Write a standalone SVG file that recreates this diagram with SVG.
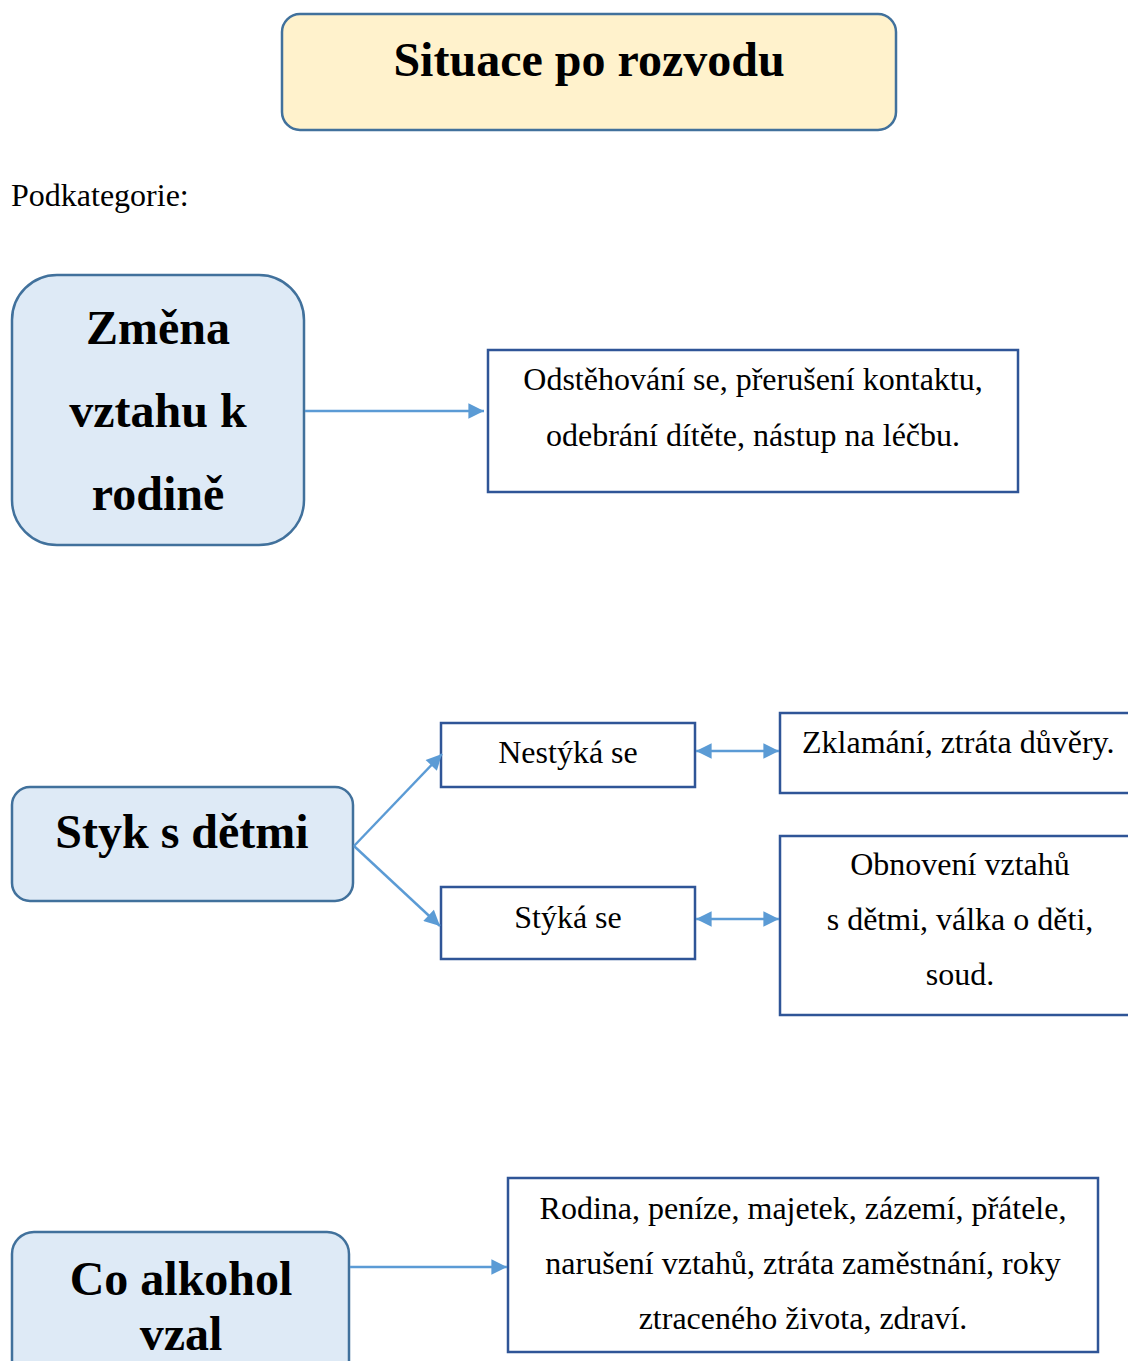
<svg xmlns="http://www.w3.org/2000/svg" width="1128" height="1361" viewBox="0 0 1128 1361">
<defs>
<style>
.cat{fill:#DEEAF6;stroke:#41719C;stroke-width:2.5}
.box{fill:#FFFFFF;stroke:#2F5597;stroke-width:2.5}
.hd{font-family:"Liberation Serif","Times New Roman",serif;font-weight:bold;font-size:48px;fill:#000;text-anchor:middle}
.tx{font-family:"Liberation Serif","Times New Roman",serif;font-size:32px;fill:#000;text-anchor:middle}
.con{stroke:#5B9BD5;stroke-width:2.4;fill:none}
</style>
<marker id="ah" viewBox="0 0 10 10" refX="10" refY="5" markerWidth="7" markerHeight="6.5" markerUnits="strokeWidth" orient="auto-start-reverse">
<path d="M0,0 L10,5 L0,10 z" fill="#5B9BD5"/>
</marker>
</defs>
<rect width="1128" height="1361" fill="#FFFFFF"/>
<g id="title">
<rect x="282" y="14" width="614" height="116" rx="18" fill="#FFF2CC" stroke="#41719C" stroke-width="2.5"/>
<text x="589" y="76" font-family="Liberation Serif, serif" font-weight="bold" font-size="48" text-anchor="middle">Situace po rozvodu</text>
</g>
<text id="podkategorie" x="11" y="206" font-family="Liberation Serif, serif" font-size="32">Podkategorie:</text>
<g id="zmena">
<rect class="cat" x="12" y="275" width="292" height="270" rx="45"/>
<text class="hd" x="158" y="344">Změna</text>
<text class="hd" x="158" y="427">vztahu k</text>
<text class="hd" x="158" y="510">rodině</text>
</g>
<g id="odstehovani">
<rect class="box" x="488" y="350" width="530" height="142"/>
<text class="tx" x="753" y="390">Odstěhování se, přerušení kontaktu,</text>
<text class="tx" x="753" y="446">odebrání dítěte, nástup na léčbu.</text>
</g>
<g id="styk">
<rect class="cat" x="12" y="787" width="341" height="114" rx="18"/>
<text class="hd" x="182" y="848">Styk s dětmi</text>
</g>
<g id="nestyka">
<rect class="box" x="441" y="723" width="254" height="64"/>
<text class="tx" x="568" y="763">Nestýká se</text>
</g>
<g id="styka">
<rect class="box" x="441" y="887" width="254" height="72"/>
<text class="tx" x="568" y="928">Stýká se</text>
</g>
<g id="zklamani">
<rect class="box" x="780" y="713" width="360" height="80"/>
<text class="tx" x="802" y="753" style="text-anchor:start">Zklamání, ztráta důvěry.</text>
</g>
<g id="obnoveni">
<rect class="box" x="780" y="836" width="360" height="179"/>
<text class="tx" x="960" y="875">Obnovení vztahů</text>
<text class="tx" x="960" y="930">s dětmi, válka o děti,</text>
<text class="tx" x="960" y="985">soud.</text>
</g>
<g id="alkohol">
<rect class="cat" x="12" y="1232" width="337" height="200" rx="22"/>
<text class="hd" x="181" y="1295">Co alkohol</text>
<text class="hd" x="181" y="1350">vzal</text>
</g>
<g id="rodina">
<rect class="box" x="508" y="1178" width="590" height="174"/>
<text class="tx" x="803" y="1219">Rodina, peníze, majetek, zázemí, přátele,</text>
<text class="tx" x="803" y="1274">narušení vztahů, ztráta zaměstnání, roky</text>
<text class="tx" x="803" y="1329">ztraceného života, zdraví.</text>
</g>
<g id="connectors">
<line class="con" x1="305" y1="411" x2="484" y2="411" marker-end="url(#ah)"/>
<line class="con" x1="354" y1="846" x2="442" y2="754" marker-end="url(#ah)"/>
<line class="con" x1="354" y1="846" x2="440" y2="926" marker-end="url(#ah)"/>
<line class="con" x1="696" y1="751" x2="779" y2="751" marker-start="url(#ah)" marker-end="url(#ah)"/>
<line class="con" x1="696" y1="919" x2="779" y2="919" marker-start="url(#ah)" marker-end="url(#ah)"/>
<line class="con" x1="350" y1="1267" x2="507" y2="1267" marker-end="url(#ah)"/>
</g>
</svg>
